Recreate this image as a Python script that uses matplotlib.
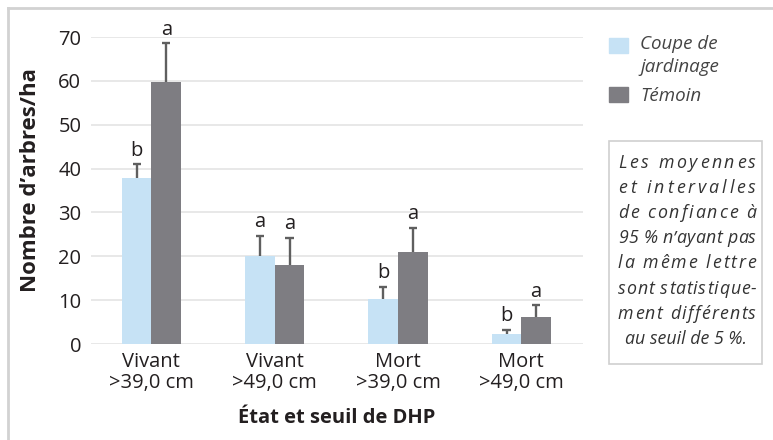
import matplotlib.pyplot as plt
from matplotlib.lines import Line2D
from matplotlib.patches import Rectangle
from matplotlib.font_manager import findfont, FontProperties
from matplotlib.ft2font import FT2Font
import numpy as np

plt.rcParams['font.family'] = ['Open Sans', 'DejaVu Sans']

# données
categories = ['Vivant\n>39,0 cm', 'Vivant\n>49,0 cm', 'Mort\n>39,0 cm', 'Mort\n>49,0 cm']
coupe = [37.8, 20.1, 10.2, 2.3]
coupe_err = [3.2, 4.6, 2.9, 1.0]
temoin = [59.7, 18.0, 21.0, 6.1]
temoin_err = [8.9, 6.2, 5.5, 2.7]
lettres_coupe = ['b', 'a', 'b', 'b']
lettres_temoin = ['a', 'a', 'a', 'a']

c_light = '#c6e2f5'
c_dark = '#7e7d82'
c_err = '#5f5f5f'
c_txt = '#231f20'

fig = plt.figure(figsize=(7.73, 4.40), dpi=100)
ax = fig.add_axes([91 / 773, 1 - 344 / 440, (583 - 91) / 773, (344 - 37) / 440])

x = np.arange(len(categories))
w = 0.24
cap = 0.033
ax.bar(x - w / 2, coupe, w, color=c_light, zorder=2)
ax.bar(x + w / 2, temoin, w, color=c_dark, zorder=2)

# barres d'erreur (seulement vers le haut)
for xs, vals, errs in [(x - w / 2, coupe, coupe_err), (x + w / 2, temoin, temoin_err)]:
    tops = np.array(vals) + np.array(errs)
    ax.vlines(xs, vals, tops, color=c_err, lw=1.7, zorder=3)
    ax.hlines(tops, xs - cap, xs + cap, color=c_err, lw=1.7, zorder=3)

for i in range(4):
    ax.text(x[i] - w / 2, coupe[i] + coupe_err[i] + 0.8, lettres_coupe[i],
            ha='center', va='bottom', fontsize=14.5, color=c_txt, clip_on=False)
    ax.text(x[i] + w / 2, temoin[i] + temoin_err[i] + 0.8, lettres_temoin[i],
            ha='center', va='bottom', fontsize=14.5, color=c_txt, clip_on=False)

ax.set_xlim(-0.49, 3.5)
ax.set_ylim(0, 70)
ax.set_yticks(range(0, 71, 10))
ax.set_xticks(x)
ax.set_xticklabels(categories, fontsize=14.5, color=c_txt, linespacing=1.05)
ax.tick_params(axis='y', labelsize=14.5, labelcolor=c_txt, length=0, pad=7)
ax.tick_params(axis='x', length=0, pad=6)
ax.grid(axis='y', color='#e6e6e6', lw=1.3, zorder=0)
for s in ax.spines.values():
    s.set_visible(False)
ax.set_axisbelow(True)

fig.text(31 / 773, 1 - 180 / 440, "Nombre d’arbres/ha", rotation=90, fontsize=16,
         fontweight='bold', color=c_txt, ha='center', va='center')
ax.set_xlabel('État et seuil de DHP', fontsize=14.5, fontweight='bold', color=c_txt, labelpad=11)

# légende
fig.patches.append(Rectangle((609 / 773, 1 - 53 / 440), 19 / 773, 15 / 440,
                             transform=fig.transFigure, color=c_light))
fig.patches.append(Rectangle((609 / 773, 1 - 102 / 440), 19 / 773, 15 / 440,
                             transform=fig.transFigure, color=c_dark))
fig.text(640 / 773, 1 - 44 / 440, 'Coupe de', fontsize=13.5, style='italic',
         color='#444444', va='center', ha='left')
fig.text(640 / 773, 1 - 67 / 440, 'jardinage', fontsize=13.5, style='italic',
         color='#444444', va='center', ha='left')
fig.text(640 / 773, 1 - 96 / 440, 'Témoin', fontsize=13.5, style='italic',
         color='#444444', va='center', ha='left')

# encadré
fig.patches.append(Rectangle((609 / 773, 1 - 364 / 440), 153 / 773, 223 / 440,
                             transform=fig.transFigure, facecolor='white',
                             edgecolor='#cfcfcf', lw=1.2))
note = ['Les moyennes', 'et intervalles', 'de confiance à', '95 % n’ayant pas',
        'la même lettre', 'sont statistique-', 'ment différents', 'au seuil de 5 %.']

note_size = 12.8
note_kw = dict(fontsize=note_size, style='italic', color='#333333')

# avances des glyphes (texte justifié avec espacement des lettres)
ft = FT2Font(findfont(FontProperties(family='Open Sans', style='italic')))
ft.set_size(note_size, 100)


def advance(ch):
    g = ft.load_char(ord(ch))
    return g.linearHoriAdvance / 65536


x0, x1 = 618, 756  # largeur justifiée en pixels
for k, line in enumerate(note):
    yy = 1 - (163 + k * 25.1) / 440
    if k == len(note) - 1:
        fig.text(686 / 773, yy, line, ha='center', va='center', **note_kw)
        continue
    advs = [advance(ch) for ch in line]
    gap = (x1 - x0 - sum(advs)) / (len(line) - 1)
    pen = x0
    for ch, a in zip(line, advs):
        if ch != ' ':
            fig.text(pen / 773, yy, ch, ha='left', va='center', **note_kw)
        pen += a + gap

# cadre
fig.add_artist(Line2D([8 / 773, 1], [1 - 8 / 440, 1 - 8 / 440], transform=fig.transFigure,
                      color='#d2d2d2', lw=2))
fig.add_artist(Line2D([8 / 773, 8 / 773], [0, 1 - 8 / 440], transform=fig.transFigure,
                      color='#d2d2d2', lw=2))

fig.savefig('out.png', dpi=100)
